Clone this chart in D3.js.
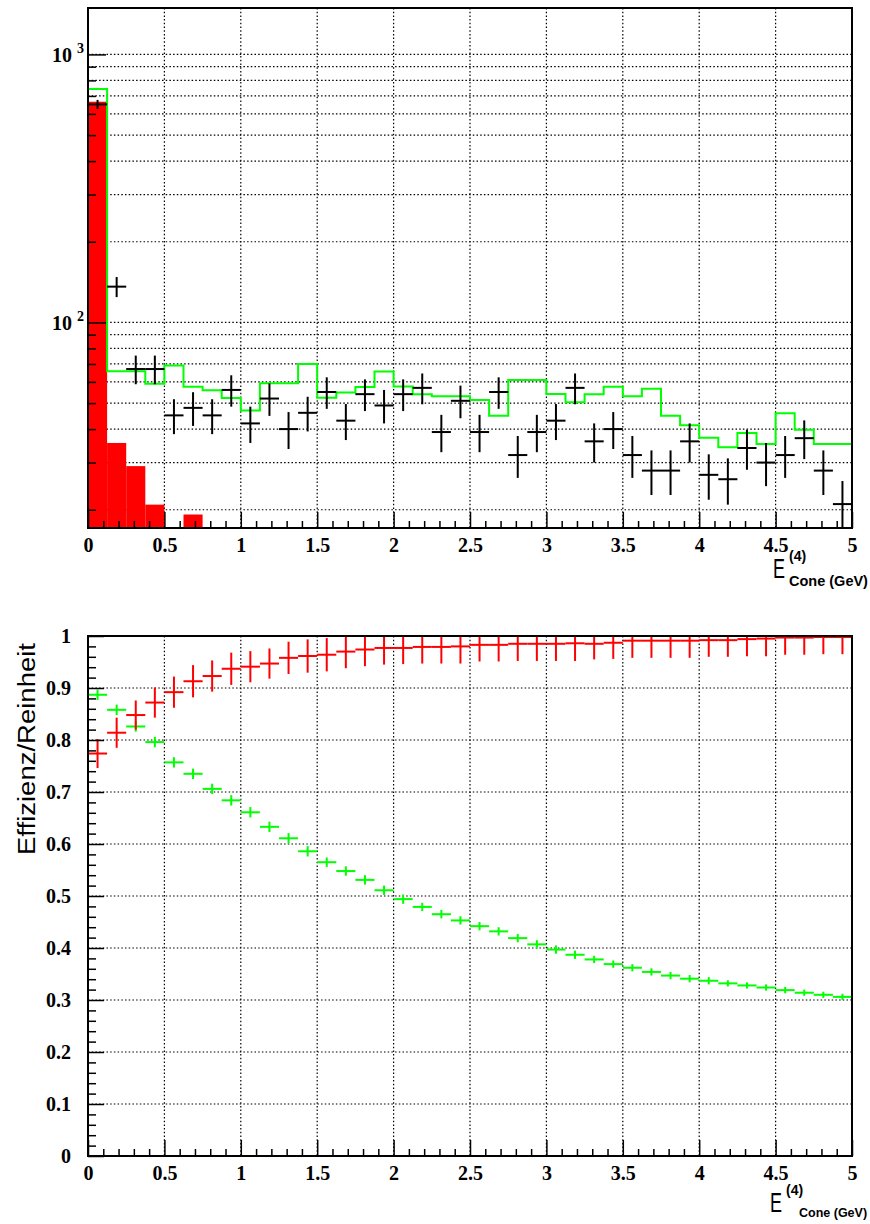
<!DOCTYPE html>
<html>
<head>
<meta charset="utf-8">
<script src="https://cdn.jsdelivr.net/npm/d3@7"></script>
<style>
  body { margin: 0; background: #fff; }
  svg { display: block; }
  .tick text { font-family: 'Liberation Serif', serif; font-weight: bold; font-size: 20px; fill: #000; }
  .tick line { stroke: #000; stroke-width: 1.5; }
  .grid line { stroke: #000; stroke-width: 1.2; stroke-dasharray: 1.5,2.2; }
</style>
</head>
<body>
<div id="chart"></div>
<script>
// bins of E_cone, width 0.125 GeV
const binCenters = [0.0625, 0.1875, 0.3125, 0.4375, 0.5625, 0.6875, 0.8125, 0.9375,
  1.0625, 1.1875, 1.3125, 1.4375, 1.5625, 1.6875, 1.8125, 1.9375,
  2.0625, 2.1875, 2.3125, 2.4375, 2.5625, 2.6875, 2.8125, 2.9375,
  3.0625, 3.1875, 3.3125, 3.4375, 3.5625, 3.6875, 3.8125, 3.9375,
  4.0625, 4.1875, 4.3125, 4.4375, 4.5625, 4.6875, 4.8125, 4.9375]
const binHalf = 0.0625

// top panel: data (black), MC total (green line), signal (red fill)
const dataCounts = [651, 136, 67, 67, 45, 48, 45, 56, 42, 52, 40, 46, 55, 43, 54, 49, 54, 57, 39, 51,
  39, 55, 32, 39, 43, 57, 36, 40, 32, 28, 28, 36, 27, 26, 34, 30, 32, 37, 28, 21]
const dataErr = [25.5, 11.7, 8.2, 8.2, 6.7, 6.9, 6.7, 7.5, 6.5, 7.2, 6.3, 6.8, 7.4, 6.6, 7.3, 7.0, 7.3, 7.5, 6.2, 7.1,
  6.2, 7.4, 5.7, 6.2, 6.6, 7.5, 6.0, 6.3, 5.7, 5.3, 5.3, 6.0, 5.2, 5.1, 5.8, 5.5, 5.7, 6.1, 5.3, 4.6]
const mcTotal = [743, 65.7, 65.7, 59.1, 69, 57.5, 55.8, 52.3, 46.9, 59.3, 59.3, 70, 52.4, 54.8, 57.4, 65.6, 57.7, 54.0, 53.0, 53.0,
  51.4, 44.9, 61, 61, 54.1, 50.4, 54.0, 57.5, 53.0, 56.6, 44.9, 41.3, 37.1, 34.2, 38.7, 35.2, 45.8, 39.8, 35.2, 35.2]
const signalHist = [666, 35.5, 29.1, 20.9, 0, 19.2, 0, 0, 0, 0, 0, 0, 0, 0, 0, 0, 0, 0, 0, 0,
  0, 0, 0, 0, 0, 0, 0, 0, 0, 0, 0, 0, 0, 0, 0, 0, 0, 0, 0, 0]

// bottom panel: efficiency (red) and purity (green)
const effRed = [0.774, 0.814, 0.848, 0.872, 0.892, 0.913, 0.923, 0.937, 0.941, 0.947, 0.958, 0.9615, 0.964, 0.970, 0.974, 0.977, 0.977, 0.979, 0.979, 0.980,
  0.983, 0.983, 0.985, 0.985, 0.985, 0.986, 0.985, 0.987, 0.991, 0.991, 0.991, 0.991, 0.992, 0.992, 0.994, 0.995, 0.997, 0.997, 0.998, 0.998]
const effRedErr = [0.028, 0.029, 0.028, 0.029, 0.030, 0.031, 0.030, 0.031, 0.030, 0.029, 0.031, 0.032, 0.032, 0.032, 0.032, 0.032, 0.031, 0.032, 0.032, 0.033,
  0.032, 0.032, 0.033, 0.033, 0.033, 0.034, 0.030, 0.031, 0.033, 0.033, 0.033, 0.033, 0.032, 0.032, 0.033, 0.034, 0.033, 0.033, 0.033, 0.033]
const purGreen = [0.887, 0.858, 0.826, 0.796, 0.757, 0.735, 0.706, 0.684, 0.661, 0.633, 0.611, 0.586, 0.565, 0.548, 0.531, 0.511, 0.494, 0.479, 0.465, 0.453,
  0.442, 0.432, 0.419, 0.407, 0.397, 0.387, 0.378, 0.369, 0.362, 0.354, 0.347, 0.341, 0.337, 0.332, 0.328, 0.324, 0.319, 0.314, 0.310, 0.306]
const purGreenErr = [0.010, 0.010, 0.010, 0.010, 0.010, 0.010, 0.010, 0.010, 0.010, 0.010, 0.010, 0.010, 0.009, 0.009, 0.009, 0.009, 0.009, 0.008, 0.008, 0.008,
  0.008, 0.008, 0.008, 0.008, 0.008, 0.008, 0.007, 0.007, 0.007, 0.007, 0.007, 0.007, 0.007, 0.006, 0.006, 0.006, 0.006, 0.006, 0.006, 0.006]

// tick values / labels
const xMajor = [0, 0.5, 1, 1.5, 2, 2.5, 3, 3.5, 4, 4.5, 5]
const xLabels = ['0', '0.5', '1', '1.5', '2', '2.5', '3', '3.5', '4', '4.5', '5']
const logMajor = [100, 1000]
const logLabels = [['10', '2'], ['10', '3']]
const logMinor = [20, 30, 40, 50, 60, 70, 80, 90, 200, 300, 400, 500, 600, 700, 800, 900]
const linMajor = [0, 0.1, 0.2, 0.3, 0.4, 0.5, 0.6, 0.7, 0.8, 0.9, 1]
const linLabels = ['0', '0.1', '0.2', '0.3', '0.4', '0.5', '0.6', '0.7', '0.8', '0.9', '1']

const width = 870
const height = 1224
const left = 88
const right = 852
const top1 = 8
const bot1 = 528
const top2 = 636
const bot2 = 1156

const x = d3.scaleLinear().domain([0, 5]).range([left, right])
const yTop = d3.scaleLog().domain([17.1, 1490]).range([bot1, top1])
const yBot = d3.scaleLinear().domain([0, 1]).range([bot2, top2])

const xMinor = d3.range(0, 5.001, 0.1).filter(v => Math.abs(v * 2 - Math.round(v * 2)) > 1e-6)
const linMinor = d3.range(0, 1.001, 0.02).filter(v => Math.abs(v * 10 - Math.round(v * 10)) > 1e-6)

const svg = d3.select('#chart').append('svg')
  .attr('width', width)
  .attr('height', height)

const defs = svg.append('defs')
defs.append('clipPath').attr('id', 'clipTop').append('rect')
  .attr('x', left).attr('y', top1).attr('width', right - left).attr('height', bot1 - top1)
defs.append('clipPath').attr('id', 'clipBot').append('rect')
  .attr('x', left).attr('y', top2).attr('width', right - left).attr('height', bot2 - top2)

// dotted grid
const drawGrid = (yScale, yVals, yTopPx, yBotPx) => {
  const g = svg.append('g').attr('class', 'grid')
  g.selectAll('.gx').data(xMajor.slice(1, -1)).enter().append('line')
    .attr('x1', d => x(d)).attr('x2', d => x(d))
    .attr('y1', yTopPx).attr('y2', yBotPx)
  g.selectAll('.gy').data(yVals).enter().append('line')
    .attr('x1', left).attr('x2', right)
    .attr('y1', d => yScale(d)).attr('y2', d => yScale(d))
}
drawGrid(yTop, logMinor.concat(logMajor), top1, bot1)
drawGrid(yBot, linMajor.slice(1, -1), top2, bot2)

// error-bar crosses
const drawCrosses = (g, vals, errs, yScale, color) => {
  const pts = vals.map((v, i) => ({ c: binCenters[i], v, e: errs[i] }))
  g.selectAll(null).data(pts).enter().append('line')
    .attr('x1', d => x(d.c - binHalf)).attr('x2', d => x(d.c + binHalf))
    .attr('y1', d => yScale(d.v)).attr('y2', d => yScale(d.v))
    .attr('stroke', color).attr('stroke-width', 2)
  g.selectAll(null).data(pts).enter().append('line')
    .attr('x1', d => x(d.c)).attr('x2', d => x(d.c))
    .attr('y1', d => yScale(d.v - d.e)).attr('y2', d => yScale(d.v + d.e))
    .attr('stroke', color).attr('stroke-width', 2)
}

// ---- top panel ----
const gTop = svg.append('g').attr('clip-path', 'url(#clipTop)')

gTop.selectAll('.sig').data(signalHist.map((v, i) => ({ c: binCenters[i], v })).filter(d => d.v > 0))
  .enter().append('rect')
  .attr('x', d => x(d.c - binHalf))
  .attr('width', d => x(d.c + binHalf) - x(d.c - binHalf))
  .attr('y', d => yTop(d.v))
  .attr('height', d => bot1 - yTop(d.v))
  .attr('fill', '#ff0000')

const stepData = [{ x: 0, y: 17.1 }]
  .concat(mcTotal.map((v, i) => ({ x: binCenters[i] - binHalf, y: v })))
  .concat([{ x: 5, y: mcTotal[mcTotal.length - 1] }, { x: 5, y: 17.1 }])
const stepLine = d3.line()
  .x(d => x(d.x))
  .y(d => yTop(d.y))
  .curve(d3.curveStepAfter)
gTop.append('path')
  .datum(stepData)
  .attr('d', stepLine)
  .attr('fill', 'none')
  .attr('stroke', '#00ff00')
  .attr('stroke-width', 2)

drawCrosses(gTop, dataCounts, dataErr, yTop, '#000')

// ---- bottom panel ----
const gBot = svg.append('g').attr('clip-path', 'url(#clipBot)')
drawCrosses(gBot, purGreen, purGreenErr, yBot, '#00ff00')
drawCrosses(gBot, effRed, effRedErr, yBot, '#ff0000')

// ---- axes ----
const drawXAxis = (yPx) => {
  svg.append('g')
    .attr('transform', 'translate(0,' + yPx + ')')
    .call(d3.axisBottom(x).tickValues(xMinor).tickSize(-7).tickFormat(''))
    .call(g => g.select('.domain').remove())
  svg.append('g')
    .attr('transform', 'translate(0,' + yPx + ')')
    .call(d3.axisBottom(x).tickValues(xMajor).tickSize(-16).tickPadding(10)
      .tickFormat((d, i) => xLabels[i]))
    .call(g => g.select('.domain').remove())
}
drawXAxis(bot1)
drawXAxis(bot2)

// log y axis, top panel
svg.append('g')
  .attr('transform', 'translate(' + left + ',0)')
  .call(d3.axisLeft(yTop).tickValues(logMinor).tickSize(-8).tickFormat(''))
  .call(g => g.select('.domain').remove())
svg.append('g')
  .attr('transform', 'translate(' + left + ',0)')
  .call(d3.axisLeft(yTop).tickValues(logMajor).tickSize(-18).tickFormat(''))
  .call(g => g.select('.domain').remove())
logMajor.forEach((v, i) => {
  const t = svg.append('text')
    .attr('x', 52)
    .attr('y', yTop(v) + 8)
    .style('font-family', "'Liberation Serif', serif")
    .style('font-weight', 'bold')
    .style('font-size', '20px')
  t.append('tspan').text(logLabels[i][0])
  t.append('tspan').attr('dx', 5).attr('dy', -9).style('font-size', '14px').text(logLabels[i][1])
})

// linear y axis, bottom panel
svg.append('g')
  .attr('transform', 'translate(' + left + ',0)')
  .call(d3.axisLeft(yBot).tickValues(linMinor).tickSize(-8).tickFormat(''))
  .call(g => g.select('.domain').remove())
svg.append('g')
  .attr('transform', 'translate(' + left + ',0)')
  .call(d3.axisLeft(yBot).tickValues(linMajor).tickSize(-16).tickPadding(17)
    .tickFormat((d, i) => linLabels[i]))
  .call(g => g.select('.domain').remove())

// frames
svg.append('rect')
  .attr('x', left).attr('y', top1).attr('width', right - left).attr('height', bot1 - top1)
  .attr('fill', 'none').attr('stroke', '#000').attr('stroke-width', 2)
svg.append('rect')
  .attr('x', left).attr('y', top2).attr('width', right - left).attr('height', bot2 - top2)
  .attr('fill', 'none').attr('stroke', '#000').attr('stroke-width', 2)

// x titles: E^(4)_Cone (GeV)
const xTitle = (ex, eBase, supX, supBase, subX, subBase, subSize) => {
  svg.append('text')
    .attr('x', ex).attr('y', eBase)
    .attr('textLength', 12)
    .attr('lengthAdjust', 'spacingAndGlyphs')
    .style('font-family', "'Liberation Sans', sans-serif")
    .style('font-size', '27px')
    .text('E')
  svg.append('text')
    .attr('x', supX).attr('y', supBase)
    .style('font-family', "'Liberation Sans', sans-serif")
    .style('font-weight', 'bold')
    .style('font-size', '14px')
    .text('(4)')
  svg.append('text')
    .attr('x', subX).attr('y', subBase)
    .style('font-family', "'Liberation Sans', sans-serif")
    .style('font-weight', 'bold')
    .style('font-size', subSize + 'px')
    .text('Cone (GeV)')
}
xTitle(773, 578, 789, 561, 789, 586, 14.5)
xTitle(770, 1212, 786, 1195, 799, 1217, 12.5)

// y title bottom panel
svg.append('text')
  .attr('transform', 'translate(35,749) rotate(-90)')
  .attr('text-anchor', 'middle')
  .attr('textLength', 212)
  .attr('lengthAdjust', 'spacingAndGlyphs')
  .style('font-family', "'Liberation Sans', sans-serif")
  .style('font-size', '23px')
  .text('Effizienz/Reinheit')
</script>
</body>
</html>
